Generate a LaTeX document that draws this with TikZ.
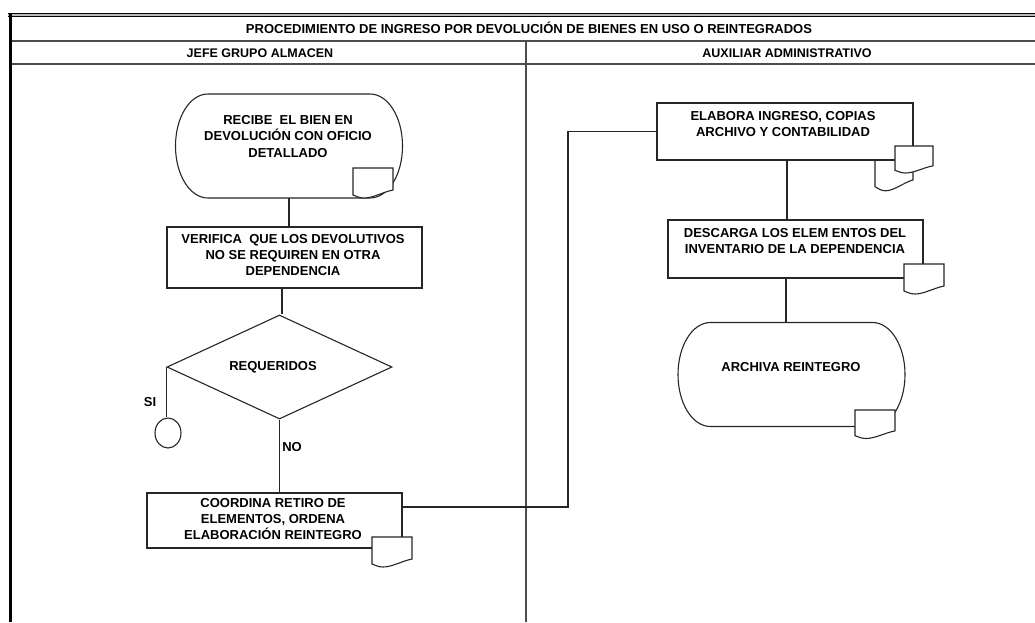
\documentclass[tikz,border=0pt]{standalone}
\usepackage{fontspec}
\setmainfont{Liberation Sans}
\usetikzlibrary{shapes.geometric}
\definecolor{ink}{gray}{0.15}
\definecolor{rule}{gray}{0.3}
\begin{document}
\begin{tikzpicture}[x=1pt,y=-1pt,
  lane/.style={draw=rule, line width=2pt},
  shapeline/.style={draw=ink, line width=1.1pt, fill=white},
  txt/.style={font=\bfseries\fontsize{13}{16}\selectfont, align=center, inner sep=0pt, text=black},
  head/.style={font=\bfseries\fontsize{12.5}{14}\selectfont, inner sep=0pt, text=black},
  box/.style={shapeline, rectangle, inner sep=0pt},
  link/.style={draw=ink, line width=1.1pt},
  % document symbol, anchored at its top-left corner
  docsym/.pic={\path[shapeline] (0,0) -- (40,0) -- (40,22) .. controls (30,24) and (20,30) .. (11,30)
      .. controls (6,30) and (3,28) .. (0,27) -- cycle;},
  % start/end capsule, drawn around its centre
  termshape/.pic={\path[shapeline] (-81,-52) -- (81,-52) .. controls (99.2,-52) and (113.5,-28.7) .. (113.5,0)
      .. controls (113.5,28.7) and (99.2,52) .. (81,52) -- (-81,52)
      .. controls (-99.2,52) and (-113.5,28.7) .. (-113.5,0)
      .. controls (-113.5,-28.7) and (-99.2,-52) .. (-81,-52) -- cycle;}
]
\useasboundingbox (0,0) rectangle (1035,622);
\fill[white] (0,0) rectangle (1035,622);

% ---- frame and swimlanes ----
\fill[gray!55] (8,12.5) rectangle (1035,17);
\draw[black, line width=0.9pt] (8,13) -- (1035,13);
\draw[black, line width=0.9pt] (8,16.5) -- (1035,16.5);
\draw[black, line width=2.6pt] (10.7,13) -- (10.7,622);
\draw[lane] (12,41) -- (1035,41);
\draw[lane] (12,63.5) -- (1035,63.5);
\draw[lane] (526,41) -- (526,622);

\node[head, font=\bfseries\fontsize{13}{14}\selectfont] (titulo) at (529,28) {PROCEDIMIENTO DE INGRESO POR DEVOLUCIÓN DE BIENES EN USO O REINTEGRADOS};
\node[head] (lane1) at (260,53) {JEFE GRUPO ALMACEN};
\node[head] (lane2) at (787,53) {AUXILIAR ADMINISTRATIVO};

% ---- JEFE GRUPO ALMACEN ----
\node[minimum width=227pt, minimum height=104pt, inner sep=0pt] (recibe) at (289,146) {};
\pic at (recibe.center) {termshape};
\node[txt] (recibeT) at (288,137) {RECIBE\ \ EL BIEN EN\\DEVOLUCIÓN CON OFICIO\\[1pt]DETALLADO};
\pic at (353,168) {docsym};

\node[box, minimum width=255pt, minimum height=61pt] (verifica) at (294.5,257.5) {};
\node[txt] (verificaT) at (293,255.5) {VERIFICA\ \ QUE LOS DEVOLUTIVOS\\NO SE REQUIREN EN OTRA\\DEPENDENCIA};

\node[shapeline, diamond, minimum width=225pt, minimum height=104pt, inner sep=0pt] (req) at (279.5,367) {};
\node[txt] (reqT) at (273,367) {REQUERIDOS};

\node[shapeline, ellipse, minimum width=26pt, minimum height=30pt, inner sep=0pt] (fin) at (168,433) {};
\node[txt] (si) at (150,402) {SI};
\node[txt] (no) at (292,447) {NO};

\node[box, minimum width=255pt, minimum height=55pt] (coordina) at (274.5,520.5) {};
\node[txt] (coordinaT) at (273,519) {COORDINA RETIRO DE\\ELEMENTOS, ORDENA\\ELABORACIÓN REINTEGRO};
\pic at (372,537) {docsym};

% ---- AUXILIAR ADMINISTRATIVO ----
\pic[yscale=1.36, xscale=0.95] at (875,150) {docsym};
\node[box, minimum width=256pt, minimum height=57pt] (elabora) at (785,131.5) {};
\node[txt] (elaboraT) at (783,124) {ELABORA INGRESO, COPIAS\\ARCHIVO Y CONTABILIDAD};
\pic[xscale=0.95, yscale=0.9] at (895,146) {docsym};

\node[box, minimum width=255pt, minimum height=58pt] (descarga) at (795.5,249) {};
\node[txt] (descargaT) at (795,241.5) {DESCARGA LOS ELEM ENTOS DEL\\INVENTARIO DE LA DEPENDENCIA};
\pic at (904,264) {docsym};

\node[minimum width=227pt, minimum height=103pt, inner sep=0pt] (archiva) at (791.5,374.5) {};
\pic at (archiva.center) {termshape};
\node[txt] (archivaT) at (791,367) {ARCHIVA REINTEGRO};
\pic[yscale=0.95] at (855,410) {docsym};

% ---- connectors ----
\coordinate (bend) at (568,507);
\draw[link] (recibe.south) -- (recibe.south |- verifica.north);
\draw[link] ([xshift=2.5pt]req.north |- verifica.south) -- ([xshift=2.5pt]req.north |- req.north);
\draw[link] (req.west) -- (req.west |- fin.north);
\draw[link] (req.south) -- (req.south |- coordina.north);
\draw[link] ([yshift=13.5pt]coordina.east) -- (bend) |- (elabora.west);
\draw[link] ([xshift=2pt]elabora.south) -- ([xshift=2pt]elabora.south |- descarga.north);
\draw[link] ([xshift=-5.5pt]archiva.north |- descarga.south) -- ([xshift=-5.5pt]archiva.north);
\end{tikzpicture}
\end{document}
